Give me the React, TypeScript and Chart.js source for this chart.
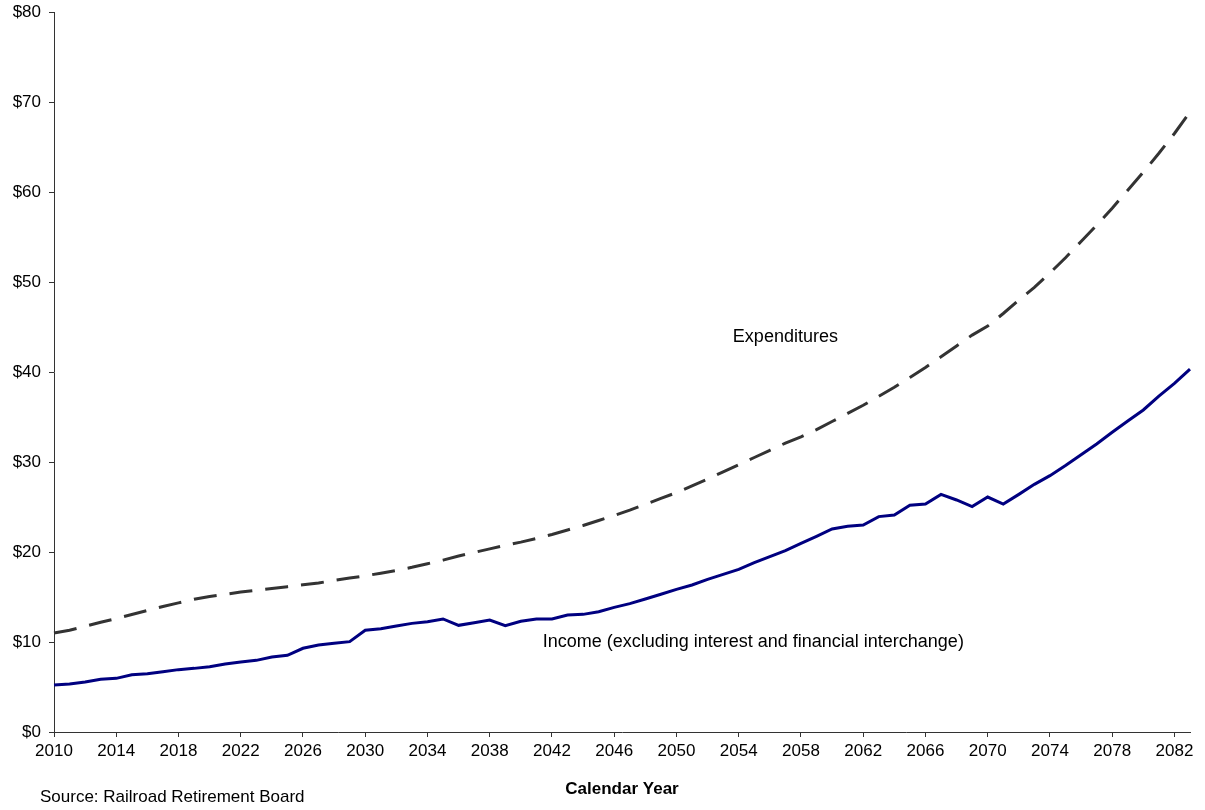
import React, { useEffect, useRef } from "react";
import { Chart, registerables } from "chart.js";

Chart.register(...registerables);

const years: string[] = [];
for (let y = 2010; y <= 2083; y++) years.push(String(y));

const incomeValues = [
  5.22, 5.33, 5.55, 5.85, 5.96, 6.37, 6.48, 6.7, 6.93, 7.07,
  7.26, 7.56, 7.78, 7.96, 8.33, 8.52, 9.3, 9.67, 9.85, 10.04,
  11.3, 11.48, 11.78, 12.07, 12.26, 12.56, 11.85, 12.15, 12.44, 11.81,
  12.3, 12.56, 12.56, 13.0, 13.07, 13.37, 13.85, 14.26, 14.78, 15.3,
  15.85, 16.33, 16.96, 17.52, 18.07, 18.81, 19.48, 20.15, 20.96, 21.74,
  22.56, 22.85, 23.0, 23.93, 24.1, 25.19, 25.33, 26.4, 25.78, 25.04,
  26.11, 25.33, 26.4, 27.52, 28.48, 29.6, 30.81, 32.0, 33.3, 34.56,
  35.78, 37.33, 38.74, 40.33,
];

const expenditureValues = [
  11.0, 11.3, 11.75, 12.2, 12.6, 13.05, 13.5, 13.95, 14.35, 14.75,
  15.05, 15.3, 15.55, 15.75, 15.95, 16.15, 16.35, 16.55, 16.85, 17.1,
  17.35, 17.65, 17.95, 18.3, 18.7, 19.1, 19.55, 19.95, 20.35, 20.75,
  21.1, 21.5, 21.95, 22.45, 22.95, 23.5, 24.05, 24.65, 25.3, 25.95,
  26.6, 27.35, 28.1, 28.9, 29.7, 30.5, 31.3, 32.1, 32.8, 33.6,
  34.5, 35.4, 36.3, 37.3, 38.3, 39.4, 40.5, 41.7, 42.9, 44.1,
  45.1, 46.5, 48.0, 49.4, 51.0, 52.7, 54.5, 56.3, 58.2, 60.2,
  62.2, 64.3, 66.5, 68.9,
];

const yTickLabels = ["$0", "$10", "$20", "$30", "$40", "$50", "$60", "$70", "$80"];

const xAxisTitle = "Calendar Year";
const sourceNote = "Source: Railroad Retirement Board";
const expendituresLabel = "Expenditures";
const incomeLabel = "Income (excluding interest and financial interchange)";
// label anchors in data coordinates: [year index, value]
const expendituresLabelAt = [47, 43.9];
const incomeLabelAt = [31.4, 10.0];

const FONT = "'Liberation Sans', Arial, sans-serif";

export default function App() {
  const ref = useRef<HTMLCanvasElement | null>(null);

  useEffect(() => {
    if (!ref.current) return;
    const labelsPlugin = {
      id: "labels",
      afterDraw(chart: any) {
        const { ctx, scales } = chart;
        const xs = scales.x;
        const ys = scales.y;
        ctx.save();
        ctx.fillStyle = "#000";
        ctx.font = `18px ${FONT}`;
        ctx.textBaseline = "middle";
        ctx.textAlign = "center";
        ctx.fillText(
          expendituresLabel,
          xs.getPixelForValue(expendituresLabelAt[0]),
          ys.getPixelForValue(expendituresLabelAt[1])
        );
        ctx.textAlign = "left";
        ctx.fillText(
          incomeLabel,
          xs.getPixelForValue(incomeLabelAt[0]),
          ys.getPixelForValue(incomeLabelAt[1])
        );
        ctx.font = `17px ${FONT}`;
        ctx.fillText(sourceNote, 40, 797);
        ctx.restore();
      },
    };

    const chart = new Chart(ref.current, {
      type: "line",
      data: {
        labels: years,
        datasets: [
          {
            label: "Expenditures",
            data: expenditureValues,
            borderColor: "#333333",
            borderWidth: 3,
            borderDash: [23, 13],
            pointRadius: 0,
            tension: 0,
            fill: false,
          },
          {
            label: "Income",
            data: incomeValues,
            borderColor: "#000080",
            borderWidth: 3,
            pointRadius: 0,
            tension: 0,
            fill: false,
          },
        ],
      },
      options: {
        responsive: false,
        animation: false,
        devicePixelRatio: 1,
        layout: { padding: { left: 0, right: 15, top: 12, bottom: 0 } },
        plugins: {
          legend: { display: false },
          tooltip: { enabled: false },
        },
        scales: {
          x: {
            type: "category",
            offset: false,
            border: { display: true, color: "#333", width: 1 },
            grid: {
              drawOnChartArea: false,
              drawTicks: true,
              tickLength: 5,
              tickColor: "#333",
            },
            ticks: {
              autoSkip: false,
              maxRotation: 0,
              minRotation: 0,
              padding: 4,
              color: "#000",
              font: { family: FONT, size: 17 },
              callback: (_v: any, i: number) => (i % 4 === 0 ? years[i] : null),
            },
            title: {
              display: true,
              text: xAxisTitle,
              color: "#000",
              font: { family: FONT, size: 17, weight: "bold" },
              padding: { top: 4, bottom: 10 },
            },
            afterFit: (scale: any) => {
              scale.height = 78;
              scale.paddingLeft = 0;
              scale.paddingRight = 0;
            },
          },
          y: {
            min: 0,
            max: 80,
            border: { display: true, color: "#333", width: 1 },
            grid: {
              drawOnChartArea: false,
              drawTicks: true,
              tickLength: 5,
              tickColor: "#333",
            },
            ticks: {
              stepSize: 10,
              padding: 8,
              color: "#000",
              font: { family: FONT, size: 17 },
              callback: (v: any) => yTickLabels[Math.round(Number(v) / 10)],
            },
            afterFit: (scale: any) => {
              scale.width = 54;
              scale.paddingTop = 0;
              scale.paddingBottom = 0;
            },
          },
        },
      },
      plugins: [labelsPlugin],
    } as any);
    return () => chart.destroy();
  }, []);

  return (
    <div style={{ position: "absolute", left: 0, top: 0, width: 1205, height: 810, background: "#fff" }}>
      <canvas ref={ref} width={1205} height={810} />
    </div>
  );
}
